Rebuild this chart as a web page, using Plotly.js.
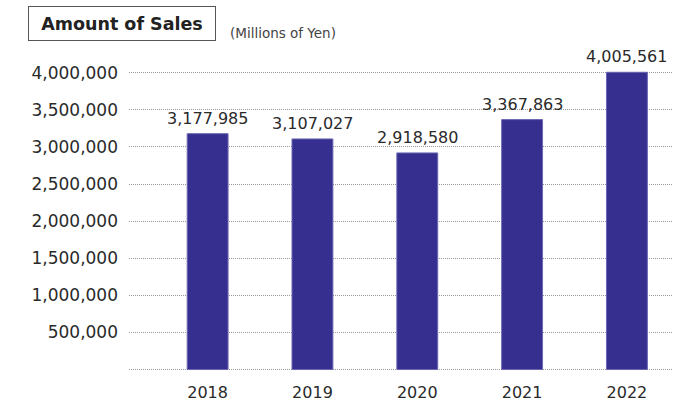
<!DOCTYPE html>
<html>
<head>
<meta charset="utf-8">
<script src="https://cdn.plot.ly/plotly-3.0.1.min.js"></script>
<style>html,body{margin:0;padding:0;background:#fff;}#chart{width:674px;height:406px;}</style>
</head>
<body>
<div id="chart"></div>
<script>
const years = ["2018", "2019", "2020", "2021", "2022"];
const sales = [3177985, 3107027, 2918580, 3367863, 4005561];
const tickValues = [0, 500000, 1000000, 1500000, 2000000, 2500000, 3000000, 3500000, 4000000];
const tickLabels = ["", "500,000", "1,000,000", "1,500,000", "2,000,000", "2,500,000", "3,000,000", "3,500,000", "4,000,000"];

const fontFam = "'DejaVu Sans', sans-serif";
const trace = {
  type: "bar",
  x: years,
  y: sales,
  width: 0.39,
  marker: {color: "#372f8f", line: {color: "#6b66b3", width: 1}},
  hoverinfo: "none"
};
const valueLabels = sales.map((v, i) => ({
  x: i, y: v, xref: "x", yref: "y",
  xanchor: "center", yanchor: "bottom", yshift: 4,
  text: v.toLocaleString("en-US"), showarrow: false,
  font: {family: fontFam, size: 16, color: "#2a2a2a"}
}));
const layout = {
  width: 674, height: 406,
  margin: {l: 129, r: 2, t: 43, b: 35},
  paper_bgcolor: "#fff", plot_bgcolor: "#fff",
  showlegend: false,
  xaxis: {
    type: "category",
    range: [-0.75, 4.43],
    showgrid: false, zeroline: false, showline: false,
    ticks: "", ticklen: 0,
    ticklabelstandoff: 10,
    tickfont: {family: fontFam, size: 16, color: "#2a2a2a"}
  },
  yaxis: {
    range: [-20000, 4400000],
    tickvals: tickValues, ticktext: tickLabels,
    showgrid: true, gridcolor: "#999", griddash: "1px,1px", gridwidth: 1,
    zeroline: false, showline: false, ticks: "",
    ticklabelstandoff: 10,
    tickfont: {family: fontFam, size: 17, color: "#2a2a2a"}
  },
  annotations: [
    {xref: "paper", yref: "paper", x: -0.0129, y: 1.0595, xanchor: "center", yanchor: "middle",
     text: "<b>Amount of Sales</b>", showarrow: false, width: 172, height: 19, align: "center",
     font: {family: fontFam, size: 17.5, color: "#222"},
     bordercolor: "#555", borderwidth: 1, borderpad: 7, bgcolor: "#fff"},
    {xref: "paper", yref: "paper", x: 0.182, y: 1.03, xanchor: "left", yanchor: "middle",
     text: "(Millions of Yen)", showarrow: false,
     font: {family: fontFam, size: 13.5, color: "#444"}}
  ].concat(valueLabels)
};
Plotly.newPlot("chart", [trace], layout, {staticPlot: true, displayModeBar: false});
</script>
</body>
</html>
